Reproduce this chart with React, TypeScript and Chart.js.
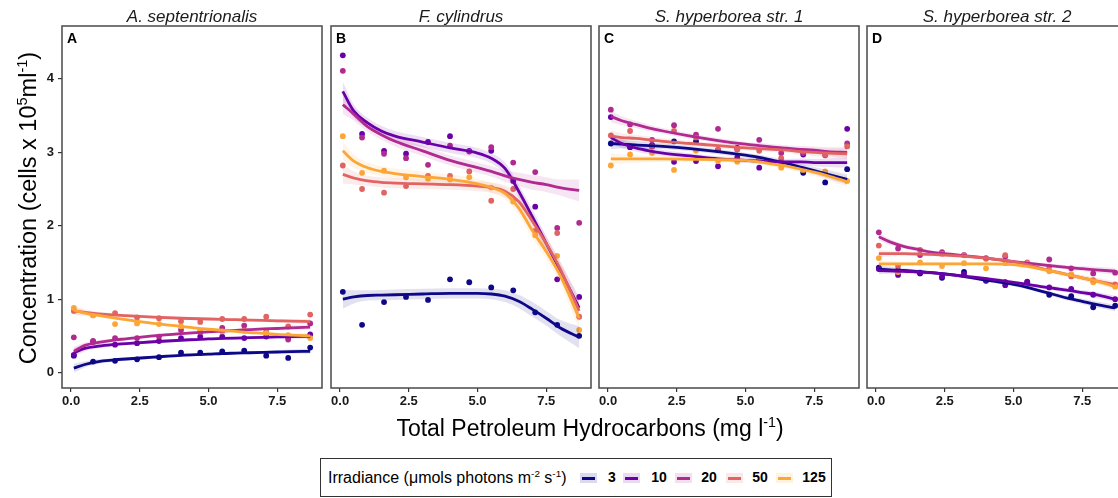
import React, { useEffect, useRef } from "react";
import { Chart, registerables } from "chart.js";

Chart.register(...registerables);

// ---------- data ----------
const GROUPS = ["3", "10", "20", "50", "125"];
const COLORS = ["#0D0887", "#6A00A8", "#B12A90", "#E16462", "#FCA636"];
const PANEL_TITLES = ["A. septentrionalis", "F. cylindrus", "S. hyperborea str. 1", "S. hyperborea str. 2"];
const PANEL_LETTERS = ["A", "B", "C", "D"];
const X_TICKS = [0, 2.5, 5, 7.5];
const Y_TICKS = [0, 1, 2, 3, 4];

const PTS_X = [0.1, 0.8, 1.6, 2.4, 3.2, 4.0, 4.7, 5.5, 6.3, 7.1, 7.9, 8.7];
const FIT_X = [0.1, 0.5, 1, 1.5, 2, 3, 4, 5, 5.5, 6, 6.5, 7, 7.5, 8, 8.7];

// Panel A
const A_PTS_3 = [0.23, 0.15, 0.16, 0.18, 0.21, 0.27, 0.27, 0.29, 0.30, 0.23, 0.20, 0.34];
const A_PTS_10 = [0.24, 0.42, 0.38, 0.40, 0.43, 0.47, 0.49, 0.49, 0.47, 0.49, 0.48, 0.52];
const A_PTS_20 = [0.48, 0.43, 0.47, 0.47, 0.49, 0.58, 0.55, 0.61, 0.64, 0.55, 0.45, 0.67];
const A_PTS_50 = [0.84, 0.78, 0.81, 0.75, 0.74, 0.70, 0.69, 0.73, 0.73, 0.76, 0.63, 0.79];
const A_PTS_125 = [0.88, 0.78, 0.66, 0.67, 0.66, 0.63, 0.57, 0.56, 0.57, 0.54, 0.51, 0.47];
const A_FIT_3 = [0.06, 0.11, 0.15, 0.17, 0.185, 0.21, 0.235, 0.25, 0.26, 0.265, 0.27, 0.275, 0.28, 0.285, 0.29];
const A_FIT_10 = [0.27, 0.33, 0.36, 0.38, 0.395, 0.42, 0.44, 0.46, 0.465, 0.47, 0.475, 0.48, 0.485, 0.49, 0.495];
const A_FIT_20 = [0.29, 0.37, 0.41, 0.44, 0.46, 0.50, 0.53, 0.555, 0.565, 0.575, 0.585, 0.595, 0.60, 0.61, 0.62];
const A_FIT_50 = [0.84, 0.82, 0.80, 0.785, 0.775, 0.755, 0.74, 0.73, 0.725, 0.72, 0.715, 0.71, 0.705, 0.70, 0.695];
const A_FIT_125 = [0.85, 0.81, 0.78, 0.75, 0.72, 0.67, 0.63, 0.59, 0.575, 0.56, 0.545, 0.535, 0.52, 0.51, 0.50];
const A_BAND = [0.06, 0.04, 0.03, 0.025, 0.02, 0.02, 0.02, 0.02, 0.02, 0.02, 0.02, 0.02, 0.025, 0.03, 0.035];

// Panel B
const B_PTS_3 = [1.10, 0.65, 0.96, 1.03, 0.99, 1.27, 1.23, 1.16, 1.12, 0.82, 0.65, 0.50];
const B_PTS_10 = [4.32, 3.25, 3.02, 2.98, 3.14, 3.22, 3.02, 3.02, 2.61, 2.26, 1.27, 1.03];
const B_PTS_20 = [4.11, 3.20, 2.98, 2.92, 2.83, 3.09, 3.01, 3.07, 2.86, 2.73, 1.97, 2.04];
const B_PTS_50 = [2.82, 2.50, 2.45, 2.54, 2.68, 2.68, 2.74, 2.34, 2.50, 1.93, 1.90, 0.76];
const B_PTS_125 = [3.22, 2.72, 2.75, 2.66, 2.64, 2.63, 2.66, 2.52, 2.33, 1.87, 1.59, 0.58];
const B_FIT_3 = [1.00, 1.03, 1.05, 1.055, 1.06, 1.07, 1.08, 1.08, 1.07, 1.04, 0.97, 0.86, 0.74, 0.61, 0.48];
const B_FIT_10 = [3.83, 3.56, 3.40, 3.29, 3.22, 3.14, 3.06, 2.99, 2.92, 2.78, 2.47, 2.12, 1.76, 1.40, 0.88];
const B_FIT_20 = [3.65, 3.52, 3.35, 3.24, 3.15, 3.02, 2.89, 2.79, 2.74, 2.68, 2.63, 2.59, 2.56, 2.52, 2.48];
const B_FIT_50 = [2.70, 2.65, 2.61, 2.59, 2.58, 2.57, 2.56, 2.54, 2.52, 2.47, 2.33, 2.06, 1.76, 1.42, 0.84];
const B_FIT_125 = [3.02, 2.88, 2.79, 2.74, 2.71, 2.67, 2.63, 2.57, 2.52, 2.44, 2.24, 1.93, 1.65, 1.33, 0.74];
const B_BAND = [0.13, 0.09, 0.07, 0.07, 0.07, 0.07, 0.07, 0.07, 0.07, 0.08, 0.09, 0.10, 0.10, 0.11, 0.15];

// Panel C
const C_PTS_3 = [3.12, 3.07, 3.08, 3.15, 3.15, 3.03, 3.06, 2.90, 2.85, 2.72, 2.59, 2.77];
const C_PTS_10 = [3.48, 3.08, 3.10, 2.87, 2.88, 2.81, 2.93, 2.79, 2.86, 2.97, 2.72, 3.32];
const C_PTS_20 = [3.58, 3.38, 3.17, 3.37, 3.24, 3.32, 3.04, 3.17, 2.99, 2.99, 2.96, 3.12];
const C_PTS_50 = [3.23, 3.29, 3.08, 3.29, 3.20, 3.04, 3.04, 3.02, 2.92, 3.02, 2.97, 3.08];
const C_PTS_125 = [2.82, 2.97, 2.99, 2.76, 3.02, 2.88, 2.87, 2.89, 2.79, 2.76, 2.74, 2.61];
const C_FIT_3 = [3.12, 3.11, 3.10, 3.09, 3.08, 3.05, 3.01, 2.96, 2.93, 2.89, 2.85, 2.80, 2.75, 2.70, 2.63];
const C_FIT_10 = [3.20, 3.12, 3.06, 3.02, 2.99, 2.95, 2.91, 2.89, 2.88, 2.87, 2.87, 2.87, 2.86, 2.86, 2.86];
const C_FIT_20 = [3.49, 3.43, 3.38, 3.33, 3.29, 3.22, 3.16, 3.11, 3.09, 3.07, 3.055, 3.04, 3.03, 3.01, 3.00];
const C_FIT_50 = [3.22, 3.20, 3.19, 3.17, 3.15, 3.12, 3.09, 3.06, 3.05, 3.04, 3.03, 3.01, 3.00, 2.99, 2.98];
const C_FIT_125 = [2.91, 2.91, 2.91, 2.91, 2.91, 2.905, 2.90, 2.89, 2.87, 2.84, 2.81, 2.77, 2.73, 2.68, 2.60];
const C_BAND = [0.08, 0.06, 0.05, 0.045, 0.04, 0.035, 0.035, 0.035, 0.035, 0.04, 0.04, 0.045, 0.05, 0.06, 0.07];

// Panel D
const D_PTS_3 = [1.43, 1.39, 1.35, 1.29, 1.37, 1.25, 1.23, 1.23, 1.06, 1.04, 0.89, 0.91];
const D_PTS_10 = [1.41, 1.33, 1.36, 1.31, 1.34, 1.26, 1.19, 1.24, 1.16, 1.14, 1.06, 1.00];
const D_PTS_20 = [1.91, 1.69, 1.60, 1.64, 1.60, 1.56, 1.58, 1.49, 1.54, 1.42, 1.35, 1.36];
const D_PTS_50 = [1.73, 1.45, 1.67, 1.62, 1.60, 1.55, 1.60, 1.50, 1.44, 1.31, 1.26, 1.20];
const D_PTS_125 = [1.56, 1.37, 1.50, 1.45, 1.49, 1.42, 1.49, 1.48, 1.38, 1.34, 1.23, 1.17];
const D_FIT_3 = [1.41, 1.40, 1.39, 1.375, 1.36, 1.32, 1.26, 1.20, 1.16, 1.11, 1.06, 1.01, 0.97, 0.93, 0.88];
const D_FIT_10 = [1.39, 1.385, 1.38, 1.37, 1.36, 1.32, 1.28, 1.23, 1.20, 1.17, 1.145, 1.12, 1.09, 1.06, 1.00];
const D_FIT_20 = [1.85, 1.78, 1.72, 1.68, 1.64, 1.60, 1.56, 1.51, 1.49, 1.47, 1.45, 1.43, 1.415, 1.40, 1.38];
const D_FIT_50 = [1.62, 1.62, 1.62, 1.615, 1.61, 1.59, 1.56, 1.51, 1.47, 1.42, 1.375, 1.33, 1.29, 1.25, 1.20];
const D_FIT_125 = [1.48, 1.48, 1.48, 1.48, 1.48, 1.48, 1.48, 1.47, 1.445, 1.41, 1.37, 1.33, 1.29, 1.25, 1.17];
const D_BAND = [0.05, 0.04, 0.03, 0.03, 0.025, 0.025, 0.025, 0.025, 0.025, 0.025, 0.03, 0.03, 0.035, 0.04, 0.045];

const PANEL_PTS = [
  [A_PTS_3, A_PTS_10, A_PTS_20, A_PTS_50, A_PTS_125],
  [B_PTS_3, B_PTS_10, B_PTS_20, B_PTS_50, B_PTS_125],
  [C_PTS_3, C_PTS_10, C_PTS_20, C_PTS_50, C_PTS_125],
  [D_PTS_3, D_PTS_10, D_PTS_20, D_PTS_50, D_PTS_125],
];
const PANEL_FITS = [
  [A_FIT_3, A_FIT_10, A_FIT_20, A_FIT_50, A_FIT_125],
  [B_FIT_3, B_FIT_10, B_FIT_20, B_FIT_50, B_FIT_125],
  [C_FIT_3, C_FIT_10, C_FIT_20, C_FIT_50, C_FIT_125],
  [D_FIT_3, D_FIT_10, D_FIT_20, D_FIT_50, D_FIT_125],
];
const PANEL_BANDS = [A_BAND, B_BAND, C_BAND, D_BAND];

// ---------- layout ----------
const FONT = "'Liberation Sans', Arial, Helvetica, sans-serif";
const BOX_LEFT = [62, 331, 599, 867];
const BOX_W = 260;
const BOX_TOP = 26;
const CANVAS_H = 430;
const X_AXIS_H = 42;
const Y_AXIS_W = 62;
const X_MIN = -0.33;
const X_MAX = 9.13;
const Y_MIN = -0.21;
const Y_MAX = 4.72;

function rgba(hex: string, a: number) {
  const n = parseInt(hex.slice(1), 16);
  return `rgba(${(n >> 16) & 255},${(n >> 8) & 255},${n & 255},${a})`;
}

const panelDecor = {
  id: "panelDecor",
  afterDatasetsDraw(chart: any, _args: any, opts: any) {
    const { ctx, chartArea: a } = chart;
    ctx.save();
    ctx.strokeStyle = "#4a4a4a";
    ctx.lineWidth = 1.5;
    ctx.strokeRect(a.left, a.top, a.right - a.left, a.bottom - a.top);
    ctx.fillStyle = "#000";
    ctx.font = `bold 14px ${FONT}`;
    ctx.textAlign = "left";
    ctx.textBaseline = "top";
    ctx.fillText(opts.letter, a.left + 5, a.top + 6);
    ctx.font = `italic 17px ${FONT}`;
    ctx.fillStyle = "#1a1a1a";
    ctx.textAlign = "center";
    ctx.textBaseline = "alphabetic";
    ctx.fillText(opts.title, (a.left + a.right) / 2, a.top - 4);
    ctx.restore();
  },
};

function buildDatasets(p: number) {
  const ds: any[] = [];
  const pts = PANEL_PTS[p];
  const fits = PANEL_FITS[p];
  const band = PANEL_BANDS[p];
  GROUPS.forEach((_g, gi) => {
    const col = COLORS[gi];
    ds.push({
      data: PTS_X.map((x, k) => ({ x, y: pts[gi][k] })),
      showLine: false,
      pointRadius: 2.9,
      pointBorderWidth: 0,
      pointBackgroundColor: col,
      borderColor: col,
      order: 30 - gi,
    });
    ds.push({
      data: FIT_X.map((x, k) => ({ x, y: fits[gi][k] - band[k] })),
      pointRadius: 0,
      borderWidth: 0,
      borderColor: "rgba(0,0,0,0)",
      fill: false,
      cubicInterpolationMode: "monotone",
      order: 20 - gi,
    });
    ds.push({
      data: FIT_X.map((x, k) => ({ x, y: fits[gi][k] + band[k] })),
      pointRadius: 0,
      borderWidth: 0,
      borderColor: "rgba(0,0,0,0)",
      backgroundColor: rgba(col, 0.12),
      fill: "-1",
      cubicInterpolationMode: "monotone",
      order: 20 - gi,
    });
    ds.push({
      data: FIT_X.map((x, k) => ({ x, y: fits[gi][k] })),
      pointRadius: 0,
      borderWidth: 2.8,
      borderColor: col,
      fill: false,
      cubicInterpolationMode: "monotone",
      order: 10 - gi,
    });
  });
  return ds;
}

function Panel({ p }: { p: number }) {
  const ref = useRef<HTMLCanvasElement>(null);
  const first = p === 0;
  const left = first ? 0 : BOX_LEFT[p] - 8;
  const width = first ? Y_AXIS_W + BOX_W + 8 : BOX_W + 16;
  useEffect(() => {
    const tickFont = { family: FONT, size: 13, weight: "bold" as const };
    const chart = new Chart(ref.current!, {
      type: "line",
      data: { datasets: buildDatasets(p) },
      plugins: [panelDecor],
      options: {
        responsive: false,
        animation: false,
        events: [],
        layout: { padding: { left: first ? 0 : 8, right: 8, top: BOX_TOP, bottom: 0 } },
        plugins: {
          legend: { display: false },
          tooltip: { enabled: false },
          // @ts-ignore
          panelDecor: { title: PANEL_TITLES[p], letter: PANEL_LETTERS[p] },
        },
        scales: {
          x: {
            type: "linear",
            min: X_MIN,
            max: X_MAX,
            afterBuildTicks: (s: any) => {
              s.ticks = X_TICKS.map((v) => ({ value: v }));
            },
            afterFit: (s: any) => {
              s.height = X_AXIS_H;
            },
            grid: { display: true, drawOnChartArea: false, drawTicks: true, tickLength: 4, color: "#333", lineWidth: 1.2 },
            border: { display: false },
            ticks: {
              autoSkip: false,
              maxRotation: 0,
              padding: 2,
              color: "#1a1a1a",
              font: tickFont,
              callback: (v: any) => Number(v).toFixed(1),
            },
          },
          y: {
            type: "linear",
            display: first,
            min: Y_MIN,
            max: Y_MAX,
            afterBuildTicks: (s: any) => {
              s.ticks = Y_TICKS.map((v) => ({ value: v }));
            },
            afterFit: (s: any) => {
              s.width = first ? Y_AXIS_W : 0;
            },
            grid: { display: true, drawOnChartArea: false, drawTicks: true, tickLength: 4, color: "#333", lineWidth: 1.2 },
            border: { display: false },
            ticks: {
              padding: 4,
              color: "#1a1a1a",
              font: tickFont,
              callback: (v: any) => String(v),
            },
          },
        },
      },
    } as any);
    return () => chart.destroy();
  }, [p]);
  return (
    <canvas
      ref={ref}
      width={width}
      height={CANVAS_H}
      style={{ position: "absolute", left, top: 0, width, height: CANVAS_H }}
    />
  );
}

const supStyle: React.CSSProperties = { fontSize: "0.62em", verticalAlign: "super", lineHeight: 0 };

const LEGEND_KEY_X = [260, 303, 355, 406, 456];
const LEGEND_LABEL_X = [291, 338, 388, 439, 493];

export default function App() {
  return (
    <div
      style={{
        position: "absolute",
        left: 0,
        top: 0,
        width: 1118,
        height: 498,
        overflow: "hidden",
        background: "#fff",
        fontFamily: FONT,
        color: "#000",
      }}
    >
      {[0, 1, 2, 3].map((p) => (
        <Panel key={p} p={p} />
      ))}
      <div
        style={{
          position: "absolute",
          left: 28 - 200,
          top: 208 - 15,
          width: 400,
          height: 30,
          lineHeight: "30px",
          textAlign: "center",
          fontSize: 23.5,
          transform: "rotate(-90deg)",
          whiteSpace: "nowrap",
        }}
      >
        Concentration (cells x 10<span style={supStyle}>5</span>ml<span style={supStyle}>-1</span>)
      </div>
      <div
        style={{
          position: "absolute",
          left: 290,
          top: 414,
          width: 600,
          height: 28,
          lineHeight: "28px",
          textAlign: "center",
          fontSize: 23,
          whiteSpace: "nowrap",
        }}
      >
        Total Petroleum Hydrocarbons (mg l<span style={supStyle}>-1</span>)
      </div>
      <div
        style={{
          position: "absolute",
          left: 320,
          top: 458,
          width: 512,
          height: 39,
          border: "1px solid #333",
          boxSizing: "border-box",
          background: "#fff",
        }}
      >
        <div
          style={{
            position: "absolute",
            left: 7,
            top: 0,
            height: 37,
            lineHeight: "37px",
            fontSize: 16,
            whiteSpace: "nowrap",
          }}
        >
          Irradiance (μmols photons m<span style={supStyle}>-2</span> s<span style={supStyle}>-1</span>)
        </div>
        {GROUPS.map((g, i) => (
          <React.Fragment key={g}>
            <div
              style={{
                position: "absolute",
                left: LEGEND_KEY_X[i] - 1,
                top: 14,
                width: 17,
                height: 10,
                background: rgba(COLORS[i], 0.15),
              }}
            >
              <div
                style={{
                  position: "absolute",
                  left: 2,
                  top: 3.5,
                  width: 13,
                  height: 3,
                  background: COLORS[i],
                }}
              />
            </div>
            <div
              style={{
                position: "absolute",
                left: LEGEND_LABEL_X[i] - 20,
                width: 40,
                top: 0,
                height: 37,
                lineHeight: "37px",
                textAlign: "center",
                fontSize: 14,
                fontWeight: "bold",
                whiteSpace: "nowrap",
              }}
            >
              {g}
            </div>
          </React.Fragment>
        ))}
      </div>
    </div>
  );
}
